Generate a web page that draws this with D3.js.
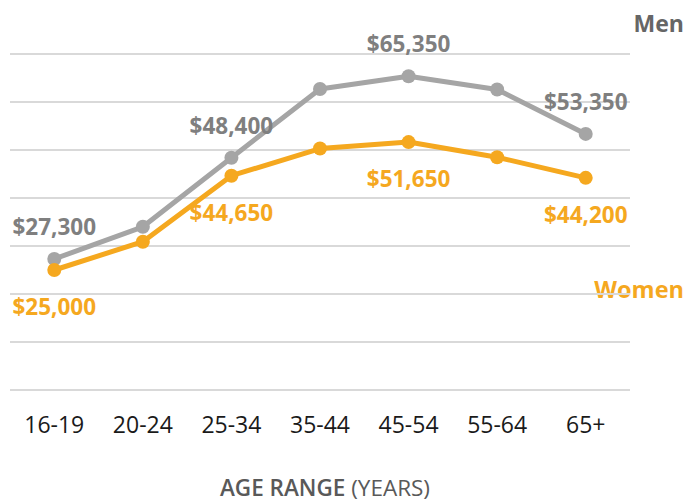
<!DOCTYPE html>
<html>
<head>
<meta charset="utf-8">
<script src="https://cdnjs.cloudflare.com/ajax/libs/d3/7.8.5/d3.min.js"></script>
<style>
    body { margin: 0; background: #fff; }
    svg { font-family: "Open Sans", sans-serif; }
    .grid-line { stroke: #d9d9d9; stroke-width: 2; }
    .tick-label { font-size: 23px; fill: #1a1a1a; }
</style>
</head>
<body>
<svg id="chart" width="683" height="502"></svg>
<script>
var ageRanges = ["16-19", "20-24", "25-34", "35-44", "45-54", "55-64", "65+"];
var menIncome = [27300, 34000, 48400, 62700, 65350, 62600, 53350];
var womenIncome = [25000, 30900, 44650, 50300, 51650, 48500, 44200];
var gridValues = [0, 10000, 20000, 30000, 40000, 50000, 60000, 70000];

// which points get a value label, and whether it sits above or below
var menLabels = [{i: 0, pos: "above"}, {i: 2, pos: "above"}, {i: 4, pos: "above"}, {i: 6, pos: "above"}];
var womenLabels = [{i: 0, pos: "below"}, {i: 2, pos: "below"}, {i: 4, pos: "below"}, {i: 6, pos: "below"}];

var menColor = "#a5a5a5";
var menText = "#7f7f7f";
var womenColor = "#f5a81f";

var svg = d3.select("#chart");

var x = d3.scalePoint().domain(ageRanges).range([10, 630]).padding(0.5);
var y = d3.scaleLinear().domain([0, 70000]).range([390, 54]);

var fmt = d3.format("$,");

// series name labels (Women sits under the grid line, as in the original)
svg.append("text")
    .attr("x", 684)
    .attr("y", 298)
    .attr("text-anchor", "end")
    .style("font-size", "23.5px")
    .style("font-weight", "bold")
    .style("fill", womenColor)
    .text("Women");

svg.append("g").selectAll("line").data(gridValues).enter().append("line")
    .attr("class", "grid-line")
    .attr("x1", 10)
    .attr("x2", 630)
    .attr("y1", d => y(d))
    .attr("y2", d => y(d));

svg.append("text")
    .attr("x", 684)
    .attr("y", 32)
    .attr("text-anchor", "end")
    .style("font-size", "23px")
    .style("font-weight", "bold")
    .style("fill", "#666666")
    .text("Men");

var line = d3.line()
    .x((d, i) => x(ageRanges[i]))
    .y(d => y(d));

function drawSeries(values, color, labels, textColor) {
    var g = svg.append("g");

    g.append("path")
        .datum(values)
        .attr("fill", "none")
        .attr("stroke", color)
        .attr("stroke-width", 5)
        .attr("stroke-linejoin", "round")
        .attr("d", line);

    g.selectAll("circle").data(values).enter().append("circle")
        .attr("cx", (d, i) => x(ageRanges[i]))
        .attr("cy", d => y(d))
        .attr("r", 7)
        .attr("fill", color);

    g.selectAll("text").data(labels).enter().append("text")
        .attr("x", d => x(ageRanges[d.i]))
        .attr("y", d => d.pos == "above" ? y(values[d.i]) - 24 : y(values[d.i]) + 45)
        .attr("text-anchor", "middle")
        .style("font-size", "22.5px")
        .style("font-weight", "bold")
        .style("fill", textColor)
        .text(d => fmt(values[d.i]));
}

drawSeries(menIncome, menColor, menLabels, menText);
drawSeries(womenIncome, womenColor, womenLabels, womenColor);

svg.append("g").selectAll("text").data(ageRanges).enter().append("text")
    .attr("class", "tick-label")
    .attr("x", d => x(d))
    .attr("y", 433)
    .attr("text-anchor", "middle")
    .text(d => d);

var title = svg.append("text")
    .attr("x", 325)
    .attr("y", 496)
    .attr("text-anchor", "middle")
    .style("font-size", "22.5px")
    .style("fill", "#595959");

title.append("tspan").style("font-weight", "600").text("AGE RANGE ");
title.append("tspan").text("(YEARS)");
</script>
</body>
</html>
